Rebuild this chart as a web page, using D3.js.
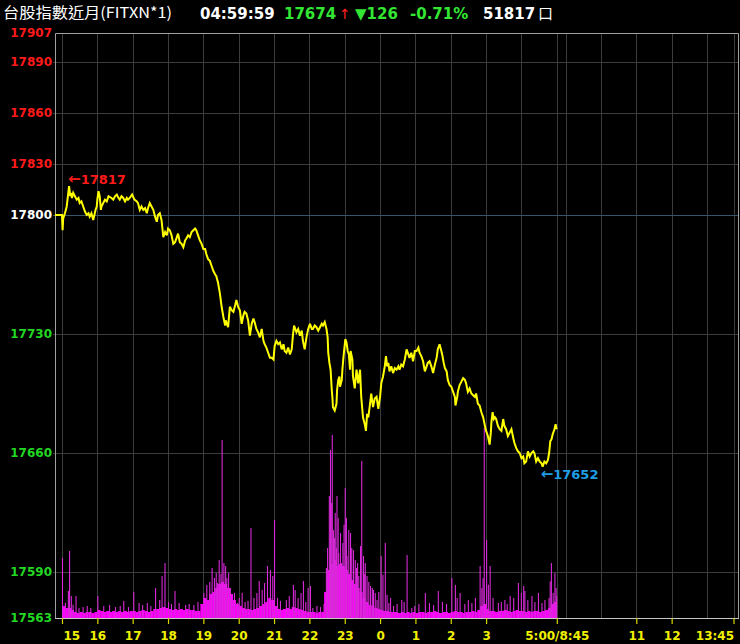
<!DOCTYPE html>
<html><head><meta charset="utf-8">
<script src="https://cdn.jsdelivr.net/npm/d3@7"></script>
<style>
html,body{margin:0;padding:0;background:#000;overflow:hidden;}
svg{display:block;}
</style></head><body>
<svg id="chart" width="740" height="644"></svg>
<script>
// ---------------- data ----------------
const title = "台股指數近月(FITXN*1)";
const quoteTime = "04:59:59";
const lastPrice = 17674;
const changeValue = 126;
const changePct = "-0.71%";
const totalVolume = "51817";
const prevClose = 17800;

const yTicks = [17907, 17890, 17860, 17830, 17800, 17730, 17660, 17590, 17563];
// minutes since 15:00 (night 15:00-5:00 = 0..840, day 8:45-13:45 = 840..1140)
const xTickMinutes = [0, 60, 120, 180, 240, 300, 360, 420, 480, 540, 600, 660, 720, 840, 975, 1035, 1140];
const xTickLabels = ["15", "16", "17", "18", "19", "20", "21", "22", "23", "0", "1", "2", "3", "5:00/8:45", "11", "12", "13:45"];
const gridMinutes = [0, 60, 120, 180, 240, 300, 360, 420, 480, 540, 600, 660, 720, 780, 840, 855, 915, 975, 1035, 1095, 1140];

const priceMinutes = [-12,0,1,2,5,8,12,14,15,17,19,22,25,28,30,33,36,39,42,45,47,50,53,55,57,59,60,62,64,66,67,70,73,76,79,84,87,90,93,96,98,101,104,107,110,112,115,119,123,127,129,132,135,138,141,144,146,149,152,155,158,161,163,166,169,172,175,178,180,183,186,189,192,195,197,200,203,206,209,211,214,217,220,223,226,228,231,234,237,240,243,245,248,251,254,257,
260,262,265,268,271,274,277,278,282,285,288,291,294,296,299,302,305,308,310,313,316,319,322,325,327,330,333,336,339,342,344,347,350,353,356,359,361,364,367,370,373,376,378,381,384,387,390,392,394,398,401,404,407,409,412,415,418,421,424,426,429,432,435,438,441,443,446,449,451,452,454,456,458,459,460,463,466,467,469,471,472,475,476,478,481,483,485,487,489,490,493,494,497,500,503,506,508,511,514,516,518,520,523,525,528,531,534,537,540,542,545,548,550,552,554,556,559,562,565,568,571,573,576,579,582,585,588,590,593,596,599,602,605,
607,610,613,616,619,621,624,627,630,633,636,638,641,644,646,648,650,653,655,658,661,664,667,668,671,672,675,678,681,684,686,689,692,695,698,701,703,706,709,712,715,718,720,723,726,728,729,731,733,735,737,740,743,746,749,751,754,757,760,763,766,768,771,774,777,780,783,785,788,791,794,797,800,802,805,808,811,814,816,819,822,825,827,829,831,833,836,838,839,840];
const priceValues = [17800,17800,17791,17798,17801,17805,17817,17811,17813,17810,17813,17811,17809,17810,17807,17808,17805,17802,17800,17801,17799,17801,17797,17800,17803,17805,17809,17814,17811,17803,17805,17807,17809,17808,17811,17810,17809,17811,17812,17810,17809,17811,17810,17808,17810,17809,17810,17812,17809,17808,17807,17803,17805,17803,17804,17801,17804,17807,17805,17803,17799,17796,17800,17801,17797,17787,17790,17788,17792,17791,17788,17783,17784,17787,17789,17784,17783,17781,17785,17786,17788,17787,17790,17791,17792,17791,17788,17785,17783,17780,17780,17777,17774,17773,17770,17767,
17765,17764,17760,17754,17746,17740,17735,17738,17734,17746,17744,17743,17747,17750,17746,17744,17736,17741,17743,17742,17738,17729,17736,17739,17737,17733,17731,17728,17733,17726,17724,17722,17719,17716,17716,17715,17723,17726,17724,17725,17721,17724,17720,17719,17722,17718,17721,17729,17735,17731,17733,17729,17732,17726,17721,17728,17733,17736,17733,17733,17735,17734,17732,17734,17736,17735,17737,17733,17728,17719,17713,17709,17697,17693,17687,17685,17689,17697,17703,17705,17699,17703,17709,17717,17727,17725,17720,17718,17709,17720,17715,17705,17698,17709,17701,17709,17693,17681,17677,17673,17683,17681,17689,17695,17687,17692,17693,17686,17693,17701,17705,17711,17717,17711,17713,17708,17711,17707,17710,17709,17711,17709,17712,17711,17715,17721,17718,17716,17719,17714,17720,17720,17722,
17719,17717,17714,17708,17711,17713,17714,17711,17707,17712,17716,17721,17724,17720,17717,17713,17710,17708,17703,17700,17699,17696,17693,17688,17693,17696,17700,17702,17704,17703,17701,17696,17698,17695,17694,17693,17695,17689,17688,17684,17681,17676,17673,17670,17665,17672,17678,17684,17680,17681,17680,17676,17674,17673,17680,17676,17674,17670,17672,17674,17669,17666,17663,17661,17660,17657,17658,17654,17655,17661,17658,17660,17661,17660,17655,17657,17655,17654,17652,17655,17654,17656,17660,17667,17668,17671,17674,17677,17675,17674];

// per-minute volume level in each 5-minute bucket (contracts)
const volBase = [72,60,60,48,
36,30,36,30,36,36,30,36,
48,42,36,42,36,42,36,42,36,42,36,42,42,36,42,48,42,36,42,
54,54,60,66,60,54,48,54,48,54,48,54,48,48,42,42,
84,120,108,144,156,180,204,216,204,180,144,108,84,72,60,
54,54,48,54,60,72,84,96,120,108,72,54,48,54,60,54,66,60,54,48,42,36,
36,36,30,36,36,
156,288,324,348,312,324,312,288,264,228,204,180,156,120,96,78,72,60,54,48,42,42,36,36,36,30,36,30,36,30,
36,30,36,36,30,36,36,42,36,30,36,36,30,36,42,36,36,30,36,36,42,36,
48,72,84,54,42,
42,36,42,42,48,42,36,42,48,42,42,36,42,36,42,42,36,42,48,
60,84,96];
// single-minute volume spikes
const spikeMinutes = [0,10,12,15,23,60,80,104,121,130,144,158,169,174,191,209,223,245,254,261,266,271,274,277,282,288,297,305,320,334,339,348,353,357,360,392,395,409,417,421,432,453,455,458,460,463,466,469,472,474,480,483,486,489,494,497,503,506,508,511,514,517,523,528,534,541,548,554,562,576,585,593,616,638,661,667,675,689,701,709,716,720,726,740,751,760,774,783,785,797,808,819,830,833,836,839,
5,18,28,35,42,48,70,90,98,112,136,150,165,180,185,198,215,230,240,250,258,263,269,279,285,292,300,310,315,325,330,343,365,370,380,385,400,405,413,425,438,444,448,450,457,462,465,468,476,478,482,491,499,501,513,520,526,531,537,544,551,557,568,580,598,605,623,630,645,652,670,683,695,712,714,723,731,745,755,766,779,790,802,814,826,828,838];
const spikeVolumes = [360,162,402,132,132,132,78,102,156,90,90,180,252,330,162,78,78,198,300,270,348,1068,330,312,270,108,90,150,540,222,168,312,288,252,588,198,168,222,180,192,72,732,1008,1098,528,630,732,390,510,330,780,372,528,510,408,348,252,432,942,372,330,252,192,168,108,372,450,90,72,108,378,60,150,162,240,198,150,108,120,312,1140,468,312,90,108,132,210,192,162,132,150,108,330,150,270,132,
90,80,60,66,72,60,72,66,72,66,78,72,108,96,84,90,84,96,150,216,240,210,264,240,180,150,120,96,102,120,150,210,120,102,108,132,120,150,96,60,66,84,300,420,690,480,420,600,450,560,600,420,300,330,264,216,180,150,156,260,140,120,84,96,72,84,90,78,96,84,120,84,90,180,240,200,120,96,84,120,150,108,96,90,120,220,180];

// ---------------- drawing ----------------
const svg = d3.select("#chart");
const W = 740, H = 644;
const plot = {left: 55, right: 738, top: 33, bottom: 618};

svg.append("rect").attr("width", W).attr("height", H).attr("fill", "#000");

const x = d3.scaleLinear().domain([0, 1140]).range([62, 733.5]);
const y = d3.scaleLinear().domain([17563, 17907]).range([plot.bottom, plot.top]);
const yVol = d3.scaleLinear().domain([0, 3510]).range([plot.bottom, plot.top]);

// grid
const grid = svg.append("g");
grid.selectAll("line.v").data(gridMinutes).join("line")
  .attr("x1", d => Math.round(x(d)) + 0.5).attr("x2", d => Math.round(x(d)) + 0.5)
  .attr("y1", plot.top).attr("y2", plot.bottom)
  .attr("stroke", "#3c3c3c").attr("stroke-width", 1);
grid.selectAll("line.h").data(yTicks.slice(1, -1)).join("line")
  .attr("x1", plot.left - 2).attr("x2", plot.right)
  .attr("y1", d => Math.round(y(d)) + 0.5).attr("y2", d => Math.round(y(d)) + 0.5)
  .attr("stroke", d => d === prevClose ? "#35566a" : "#3c3c3c").attr("stroke-width", 1);

// volume
const vol = svg.append("g");
vol.selectAll("rect").data(volBase).join("rect")
  .attr("x", (d, i) => x(i * 5))
  .attr("width", (d, i) => x(i * 5 + 5) - x(i * 5) + 0.2)
  .attr("y", d => yVol(d))
  .attr("height", d => plot.bottom - yVol(d))
  .attr("fill", "#ff00ff");
vol.selectAll("line").data(spikeMinutes).join("line")
  .attr("x1", d => x(d) + 0.5).attr("x2", d => x(d) + 0.5)
  .attr("y1", plot.bottom)
  .attr("y2", (d, i) => yVol(spikeVolumes[i]))
  .attr("stroke", "#d82ad8").attr("stroke-width", 1.1);

// frame
svg.append("path")
  .attr("d", `M${plot.left + 0.5},${plot.bottom}V${plot.top + 0.5}H${plot.right + 0.5}V${plot.bottom}`)
  .attr("fill", "none").attr("stroke", "#a0a0a0").attr("stroke-width", 1);
svg.append("line").attr("x1", plot.left).attr("x2", plot.right + 1)
  .attr("y1", plot.bottom + 0.5).attr("y2", plot.bottom + 0.5)
  .attr("stroke", "#c8c8c8");

// price line
const pts = priceMinutes.map((m, i) => [m, priceValues[i]]);
svg.append("path").datum(pts)
  .attr("d", d3.line().x(d => x(d[0])).y(d => y(d[1])))
  .attr("fill", "none").attr("stroke", "#ffff00").attr("stroke-width", 2)
  .attr("stroke-linejoin", "miter").attr("stroke-miterlimit", 3);

// y axis
const labelColor = v => v > prevClose ? "#ff1a1a" : (v === prevClose ? "#ffffff" : "#22d822");
const yAxis = svg.append("g").attr("transform", `translate(${plot.left},0)`)
  .call(d3.axisLeft(y).tickValues(yTicks).tickFormat(d3.format("d")).tickSize(0).tickPadding(3));
yAxis.select(".domain").remove();
yAxis.selectAll("text")
  .attr("fill", d => labelColor(d))
  .attr("font-family", "'DejaVu Sans', Verdana, sans-serif")
  .attr("font-weight", "bold").attr("font-size", "12px");

// x axis
const xAxis = svg.append("g").attr("transform", `translate(0,${plot.bottom})`)
  .call(d3.axisBottom(x).tickValues(xTickMinutes).tickFormat((d, i) => xTickLabels[i]).tickSize(6).tickPadding(7));
xAxis.select(".domain").remove();
xAxis.selectAll("line").attr("stroke", "#d8d800").attr("stroke-width", 1.2);
xAxis.selectAll("text")
  .attr("fill", "#f0f000")
  .attr("font-family", "'DejaVu Sans', Verdana, sans-serif")
  .attr("font-weight", "bold").attr("font-size", "12px")
  .attr("text-anchor", (d, i) => i === 0 ? "start" : (i === xTickMinutes.length - 1 ? "end" : "middle"))
  .attr("dx", (d, i) => i === 0 ? 1 : 0);

// high / low markers
const hiIdx = d3.maxIndex(priceValues), loIdx = d3.minIndex(priceValues);
const annFont = "'DejaVu Sans', Verdana, sans-serif";
function marker(xp, yp, color, value) {
  const t = svg.append("text").attr("x", xp).attr("y", yp)
    .attr("fill", color).attr("font-family", annFont).attr("font-weight", "bold").attr("font-size", "13px");
  t.append("tspan").attr("font-size", "15px").text("←");
  t.append("tspan").text(value);
}
marker(x(priceMinutes[hiIdx]) - 1, y(priceValues[hiIdx]) - 2, "#ff1a1a", priceValues[hiIdx]);
marker(x(priceMinutes[loIdx]) - 2, y(priceValues[loIdx]) + 12, "#1e9ee6", priceValues[loIdx]);

// header
const hdr = svg.append("g").attr("font-family", "'DejaVu Sans', Verdana, sans-serif");
hdr.append("text").attr("x", 3).attr("y", 18)
  .attr("font-family", "'Noto Sans CJK TC', 'Noto Sans CJK SC', sans-serif")
  .attr("font-size", "15px").attr("fill", "#ffffff")
  .attr("textLength", 169).attr("lengthAdjust", "spacingAndGlyphs")
  .text(title);
const hb = hdr.append("text").attr("y", 19).attr("font-weight", "bold").attr("font-size", "15px");
hb.append("tspan").attr("x", 200).attr("fill", "#ffffff").text(quoteTime);
hb.append("tspan").attr("x", 284).attr("fill", "#33e633").text(lastPrice);
hdr.append("text").attr("x", 339).attr("y", 19).attr("fill", "#ff2020")
  .attr("font-size", "14px").text("↑");
hb.append("tspan").attr("x", 355).attr("fill", "#33e633").text("▼" + changeValue);
hb.append("tspan").attr("x", 410).attr("fill", "#33e633").text(changePct);
hb.append("tspan").attr("x", 483).attr("fill", "#ffffff").text(totalVolume);
hdr.append("text").attr("x", 538).attr("y", 19).attr("fill", "#ffffff")
  .attr("font-family", "'Noto Sans CJK TC', sans-serif").attr("font-size", "15px").text("口");
</script>
</body></html>
